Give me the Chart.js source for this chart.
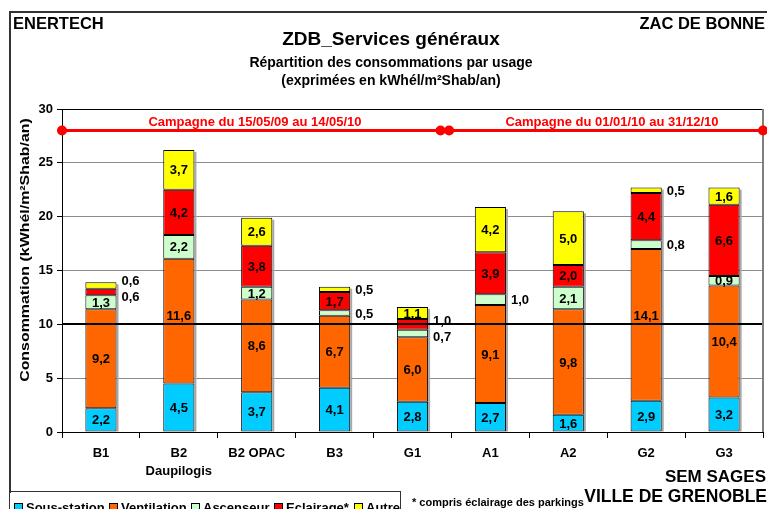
<!DOCTYPE html>
<html>
<head>
<meta charset="utf-8">
<script src="https://cdn.jsdelivr.net/npm/chart.js@4.4.0/dist/chart.umd.min.js"></script>
<style>
  body { margin: 0; background: #fff; }
  #wrap { position: relative; width: 767px; height: 509px; overflow: hidden; font-family: "Liberation Sans", Arial, sans-serif; font-weight: bold; color: #000; }
  #chartBox { position: absolute; left: 0; top: 0; width: 767px; height: 509px; }
  .t { position: absolute; white-space: nowrap; line-height: 1; }
  .frame-top { position: absolute; left: 9px; top: 11px; width: 760px; height: 2px; background: #333; }
  .frame-left { position: absolute; left: 9px; top: 11px; width: 2px; height: 482px; background: #333; }
  .legend { position: absolute; left: 9px; top: 491px; width: 390px; height: 30px; border: 1px solid #333; font-size: 13px; }
  .legend span.sq { display: inline-block; width: 7px; height: 7px; border: 1px solid #000; margin: 0 3px 0 0; }
  .legend .it { position: absolute; top: 8px; }
</style>
</head>
<body>
<div id="wrap">
  <div id="chartBox"><canvas id="chart"></canvas></div>
  <div class="frame-top"></div>
  <div class="frame-left"></div>

  <div class="t" style="left:13px; top:15px; font-size:16.5px;">ENERTECH</div>
  <div class="t" style="right:2px; top:15px; font-size:16.5px;">ZAC DE BONNE</div>
  <div class="t" style="left:391px; top:29px; font-size:19px; transform:translateX(-50%);">ZDB_Services généraux</div>
  <div class="t" style="left:391px; top:55px; font-size:14px; transform:translateX(-50%);">Répartition des consommations par usage</div>
  <div class="t" style="left:391px; top:73px; font-size:14px; transform:translateX(-50%);">(exprimées en kWhél/m²Shab/an)</div>
  <div class="t" style="left:25px; top:250px; font-size:13.5px; transform:translate(-50%,-50%) rotate(-90deg) scaleX(1.18);">Consommation (kWhél/m²Shab/an)</div>

  <div class="t" style="left:255px; top:115px; font-size:13px; color:#f00; transform:translateX(-50%);">Campagne du 15/05/09 au 14/05/10</div>
  <div class="t" style="left:612px; top:115px; font-size:13px; color:#f00; transform:translateX(-50%);">Campagne du 01/01/10 au 31/12/10</div>

  <div class="t" style="right:1px; top:468px; font-size:17px;">SEM SAGES</div>
  <div class="t" style="right:0px; top:488px; font-size:17.5px;">VILLE DE GRENOBLE</div>
  <div class="t" style="left:412px; top:497px; font-size:11px;">* compris éclairage des parkings</div>

  <div class="legend" id="legend"></div>
</div>

<script>
// Categories and series (kWhél/m²Shab/an)
const categories = ['B1', ['B2', 'Daupilogis'], 'B2 OPAC', 'B3', 'G1', 'A1', 'A2', 'G2', 'G3'];
const sousStation = [2.2, 4.5, 3.7, 4.1, 2.8, 2.7, 1.6, 2.9, 3.2];
const ventilation = [9.2, 11.6, 8.6, 6.7, 6.0, 9.1, 9.8, 14.1, 10.4];
const ascenseur   = [1.3, 2.2, 1.2, 0.5, 0.7, 1.0, 2.1, 0.8, 0.9];
const eclairage   = [0.6, 4.2, 3.8, 1.7, 1.0, 3.9, 2.0, 4.4, 6.6];
const autre       = [0.6, 3.7, 2.6, 0.5, 1.1, 4.2, 5.0, 0.5, 1.6];
const seriesNames = ['Sous-station', 'Ventilation', 'Ascenseur', 'Eclairage*', 'Autre'];
const seriesColors = ['#00CCFF', '#FF6600', '#CCFFCC', '#FF0000', '#FFFF00'];
const yTicks = [0, 5, 10, 15, 20, 25, 30];
const refLevel = 10;

// campaign periods (in category units) drawn at level 28
const campaignLevel = 28;
const campaigns = [[-0.5, 4.36], [4.47, 8.5]];

// which segments get their value written beside the bar
const outsideLabels = [[3, 4], [], [], [2, 4], [2, 3], [2], [], [2, 4], []];

const FONT = '"Liberation Sans", Arial, sans-serif';

// legend
const legend = document.getElementById('legend');
const legendX = [4, 99, 181, 264, 344];
seriesNames.forEach((n, i) => {
    const it = document.createElement('div');
    it.className = 'it';
    it.style.left = legendX[i] + 'px';
    it.innerHTML = '<span class="sq" style="background:' + seriesColors[i] + '"></span>' + n;
    legend.appendChild(it);
});

const overlay = {
    id: 'overlay',
    beforeDatasetsDraw(chart) {
        // little shadow right of each bar
        const ctx = chart.ctx;
        const first = chart.getDatasetMeta(0).data;
        const last = chart.getDatasetMeta(4).data;
        ctx.save();
        ctx.fillStyle = '#a8a8a8';
        first.forEach((el, j) => {
            const top = last[j].y;
            ctx.fillRect(el.x + el.width / 2, top + 2, 2, el.base - top - 2);
        });
        ctx.restore();
    },
    afterDatasetsDraw(chart) {
        const { ctx, chartArea, scales } = chart;
        ctx.save();
        // bold line at 10
        const y10 = Math.round(scales.y.getPixelForValue(refLevel));
        ctx.strokeStyle = '#000';
        ctx.lineWidth = 2;
        ctx.beginPath();
        ctx.moveTo(chartArea.left, y10);
        ctx.lineTo(chartArea.right, y10);
        ctx.stroke();
        // right border
        ctx.strokeStyle = '#808080';
        ctx.lineWidth = 2;
        ctx.beginPath();
        ctx.moveTo(chartArea.right, chartArea.top);
        ctx.lineTo(chartArea.right, chartArea.bottom);
        ctx.stroke();

        // campaign periods
        const yc = scales.y.getPixelForValue(campaignLevel);
        ctx.strokeStyle = '#FF0000';
        ctx.fillStyle = '#FF0000';
        ctx.lineWidth = 3;
        campaigns.forEach(p => {
            const x0 = scales.x.getPixelForValue(p[0]);
            const x1 = scales.x.getPixelForValue(p[1]);
            ctx.beginPath();
            ctx.moveTo(x0, yc);
            ctx.lineTo(x1, yc);
            ctx.stroke();
            [x0, x1].forEach(x => {
                ctx.beginPath();
                ctx.arc(x, yc, 5, 0, Math.PI * 2);
                ctx.fill();
            });
        });

        // value labels
        ctx.font = 'bold 13px ' + FONT;
        ctx.fillStyle = '#000';
        ctx.textBaseline = 'middle';
        categories.forEach((c, j) => {
            const outs = [];
            for (let i = 0; i < 5; i++) {
                const el = chart.getDatasetMeta(i).data[j];
                const v = chart.data.datasets[i].data[j];
                const txt = v.toFixed(1).replace('.', ',');
                let ym = (el.y + el.base) / 2 + 1;
                if (outsideLabels[j].includes(i)) {
                    outs.push({ txt: txt, x: el.x + el.width / 2 + 5, y: ym });
                } else {
                    // keep the value off the bold line
                    if (Math.abs(ym - y10) < 8) ym = y10 - 8;
                    ctx.textAlign = 'center';
                    ctx.fillText(txt, el.x, ym);
                }
            }
            outs.sort((a, b) => a.y - b.y);
            for (let k = 1; k < outs.length; k++) {
                const a = outs[k - 1], b = outs[k];
                if (b.y - a.y < 16) {
                    const m = (a.y + b.y) / 2;
                    a.y = m - 8;
                    b.y = m + 8;
                }
            }
            ctx.textAlign = 'left';
            outs.forEach(o => ctx.fillText(o.txt, o.x, o.y));
        });
        ctx.restore();
    }
};

const barSets = [sousStation, ventilation, ascenseur, eclairage, autre].map((d, i) => ({
    label: seriesNames[i],
    data: d,
    backgroundColor: seriesColors[i],
    borderColor: '#000',
    borderWidth: 1,
    borderSkipped: false,
    barPercentage: 0.4,
    categoryPercentage: 1
}));

new Chart(document.getElementById('chart'), {
    type: 'bar',
    data: {
        labels: categories,
        datasets: barSets
    },
    options: {
        responsive: true,
        maintainAspectRatio: false,
        animation: false,
        layout: { padding: { left: 0, top: 109, right: 4, bottom: 17 } },
        plugins: {
            legend: { display: false },
            tooltip: { enabled: false }
        },
        scales: {
            x: {
                stacked: true,
                afterFit(scale) { scale.height = 60; },
                grid: { drawOnChartArea: false, offset: true, tickLength: 6, color: '#000' },
                border: { color: '#000', width: 1 },
                ticks: { color: '#000', padding: 6, font: { family: FONT, size: 13, weight: 'bold', lineHeight: 1.4 } }
            },
            y: {
                stacked: true,
                min: 0,
                max: 30,
                afterFit(scale) { scale.width = 62; },
                afterBuildTicks(scale) { scale.ticks = yTicks.map(v => ({ value: v })); },
                grid: {
                    color: c => (c.tick && c.tick.value === 30) ? '#000' : '#8c8c8c',
                    tickColor: '#000',
                    tickLength: 5
                },
                border: { color: '#000', width: 1 },
                ticks: { color: '#000', padding: 4, font: { family: FONT, size: 13, weight: 'bold' } }
            }
        }
    },
    plugins: [overlay]
});
</script>
</body>
</html>
